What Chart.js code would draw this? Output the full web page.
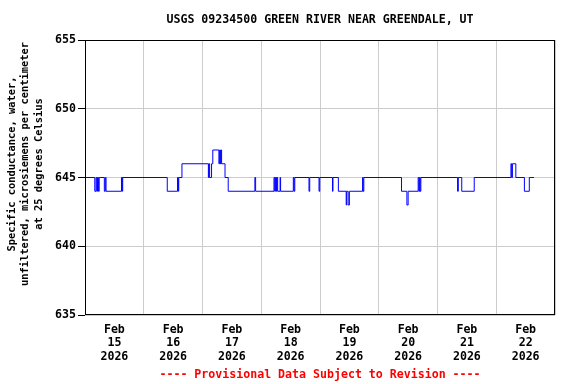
<!DOCTYPE html>
<html>
<head>
<meta charset="utf-8">
<script src="https://cdn.jsdelivr.net/npm/chart.js@4/dist/chart.umd.min.js"></script>
<style>
  html, body { margin: 0; padding: 0; background: #fff; }
  #wrap { width: 576px; height: 384px; position: relative; }
</style>
</head>
<body>
<div id="wrap"><canvas id="c" width="576" height="384"></canvas></div>
<script>
// ---- data (hours since Feb 15 2026 00:00, value holds until next point) ----
const hoursSinceFeb15 = [
  0, 4.0, 4.5, 4.8, 5.1, 5.5, 5.8, 7.9, 8.3, 8.6, 14.9, 15.2, 15.4,
  33.6, 37.8, 38.1, 38.3, 39.6, 50.4, 50.6, 50.9, 51.7, 52.2, 54.7, 55.0, 55.3, 55.5, 55.8, 57.2, 58.5,
  69.4, 69.7, 77.2, 77.5, 77.8, 78.2, 78.4, 78.7, 79.7, 79.9, 85.1, 85.4, 85.7,
  91.5, 91.8, 95.6, 95.9, 101.1, 101.3, 103.5, 106.7, 106.9, 107.5, 108.0, 113.4, 113.6, 113.9,
  129.3, 131.5, 132.0, 136.1, 136.4, 136.7, 136.9, 137.2,
  152.2, 152.5, 153.9, 159.0, 174.0, 174.3, 174.6, 176.0, 179.5, 181.5, 183.4
];
const conductance = [
  645, 644, 645, 644, 645, 644, 645, 644, 645, 644, 645, 644, 645,
  644, 645, 644, 645, 646, 645, 646, 645, 646, 647, 646, 647, 646, 647, 646, 645, 644,
  645, 644, 645, 644, 645, 644, 645, 644, 645, 644, 645, 644, 645,
  644, 645, 644, 645, 644, 645, 644, 643, 644, 643, 644, 645, 644, 645,
  644, 643, 644, 645, 644, 645, 644, 645,
  644, 645, 644, 645, 646, 645, 646, 645, 644, 645, 645
];
const monthLabel = 'Feb';
const dayLabels = ['15', '16', '17', '18', '19', '20', '21', '22'];
const yearLabel = '2026';
const yTicks = [635, 640, 645, 650, 655];
const titleText = 'USGS 09234500 GREEN RIVER NEAR GREENDALE, UT';
const yTitleLines = ['Specific conductance, water,', 'unfiltered, microsiemens per centimeter', 'at 25 degrees Celsius'];
const footerText = '---- Provisional Data Subject to Revision ----';

const FONT = '"DejaVu Sans Mono", "Liberation Mono", monospace';

const points = hoursSinceFeb15.map((h, i) => ({ x: h, y: conductance[i] }));

const textPlugin = {
  id: 'usgsTexts',
  afterDraw(chart) {
    const { ctx, chartArea: a } = chart;
    ctx.save();
    // frame
    ctx.strokeStyle = '#000';
    ctx.lineWidth = 1;
    ctx.strokeRect(Math.round(a.left) + 0.5, Math.round(a.top) + 0.5,
                   Math.round(a.right - a.left) - 1, Math.round(a.bottom - a.top) - 1);
    const cx = (a.left + a.right) / 2;
    // title
    ctx.fillStyle = '#000';
    ctx.font = 'bold 11.6px ' + FONT;
    ctx.textAlign = 'center';
    ctx.textBaseline = 'middle';
    ctx.fillText(titleText, cx, 20);
    // footer
    ctx.fillStyle = '#ff0000';
    ctx.fillText(footerText, cx, 375);
    // y title
    ctx.fillStyle = '#000';
    ctx.font = 'bold 10.4px ' + FONT;
    const xs = [12, 25.5, 39];
    yTitleLines.forEach((t, i) => {
      ctx.save();
      ctx.translate(xs[i], 164);
      ctx.rotate(-Math.PI / 2);
      ctx.fillText(t, 0, 0);
      ctx.restore();
    });
    ctx.restore();
  }
};

new Chart(document.getElementById('c'), {
  type: 'line',
  data: {
    datasets: [{
      data: points,
      borderColor: '#0000ff',
      borderWidth: 1,
      pointRadius: 0,
      stepped: true,
      fill: false,
      tension: 0
    }]
  },
  options: {
    responsive: false,
    animation: false,
    layout: { padding: { top: 40, right: 21, left: 0, bottom: 0 } },
    plugins: { legend: { display: false }, tooltip: { enabled: false }, title: { display: false } },
    scales: {
      x: {
        type: 'linear',
        min: 0,
        max: 192,
        afterFit(scale) { scale.height = 69; },
        afterBuildTicks(scale) {
          const t = [];
          for (let v = 0; v <= 192; v += 12) t.push({ value: v });
          scale.ticks = t;
        },
        border: { display: false },
        grid: {
          color: (c) => (c.tick && c.tick.value % 24 === 0) ? '#cccccc' : 'rgba(0,0,0,0)',
          drawTicks: false,
          lineWidth: 1
        },
        ticks: {
          autoSkip: false,
          maxRotation: 0,
          minRotation: 0,
          padding: 8,
          color: '#000',
          font: { family: FONT, size: 11.6, weight: 'bold', lineHeight: 1.16 },
          callback(value) {
            if (value % 24 === 12) {
              const d = Math.floor(value / 24);
              return [monthLabel, dayLabels[d], yearLabel];
            }
            return '';
          }
        }
      },
      y: {
        min: 635,
        max: 655,
        afterFit(scale) { scale.width = 85; },
        afterBuildTicks(scale) { scale.ticks = yTicks.map(v => ({ value: v })); },
        border: { display: false },
        grid: {
          color: '#cccccc',
          tickColor: '#000',
          tickLength: 7,
          drawTicks: true,
          lineWidth: 1
        },
        ticks: {
          padding: 2,
          color: '#000',
          font: { family: FONT, size: 11.6, weight: 'bold' }
        }
      }
    }
  },
  plugins: [textPlugin]
});
</script>
</body>
</html>
